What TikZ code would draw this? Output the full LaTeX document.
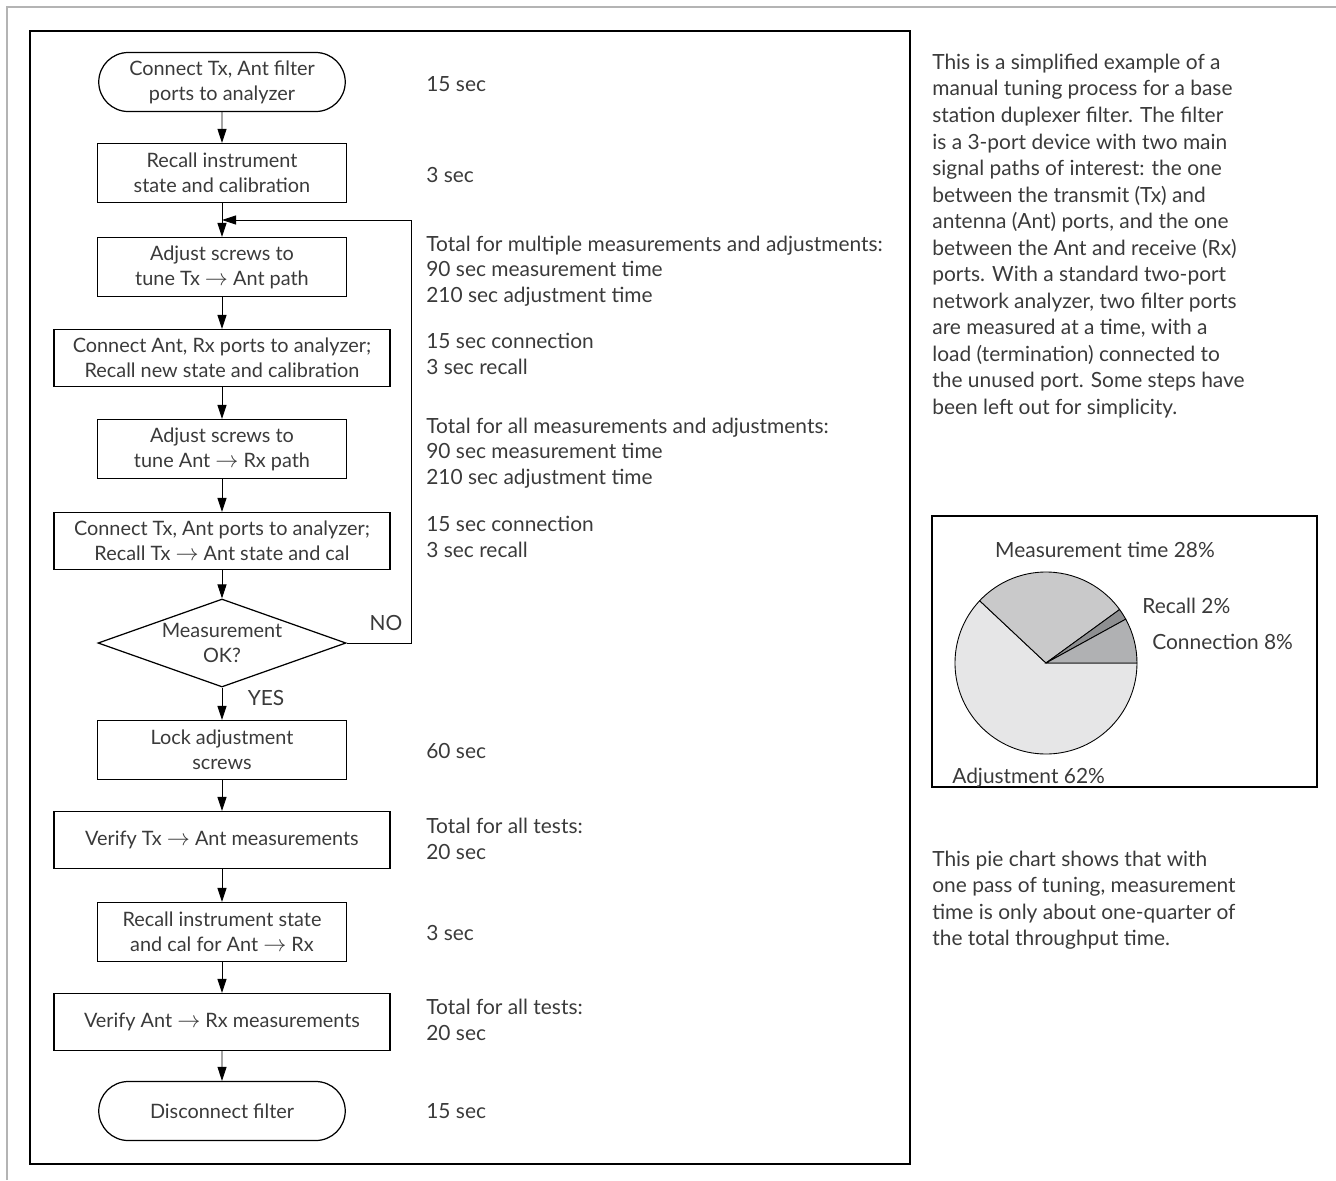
\documentclass[tikz,border=0pt]{standalone}
\usepackage{fontspec}
\setmainfont{Lato}
\usetikzlibrary{arrows.meta,shapes.geometric,shapes.misc}

\definecolor{txtgray}{HTML}{3A3A3A}
\definecolor{framegray}{HTML}{B4B4B4}
\definecolor{adjfill}{HTML}{E6E6E7}
\definecolor{measfill}{HTML}{C9C9CA}
\definecolor{recfill}{HTML}{8E8F91}
\definecolor{confill}{HTML}{B0B1B3}

\tikzset{
  stepbox/.style={draw, line width=0.7pt, minimum width=49.8mm, minimum height=11.8mm,
    align=center, inner sep=1pt, text=txtgray, font=\fontsize{11.3}{14.2}\selectfont},
  widebox/.style={stepbox, minimum width=67.2mm, minimum height=11.4mm},
  termbox/.style={stepbox, rounded rectangle, minimum width=50mm},
  decision/.style={draw, diamond, line width=0.7pt, minimum width=49.6mm, minimum height=17.6mm, inner sep=0pt},
  flow/.style={-{Triangle[length=2.8mm,width=1.8mm]}, line width=0.5pt},
  note/.style={anchor=west, align=left, inner sep=0pt, text=txtgray, font=\fontsize{11.9}{14.5}\selectfont},
  para/.style={note, font=\fontsize{11.9}{15.1}\selectfont}
}
\newcommand{\pathto}{\smash{\scalebox{1.2}{$\rightarrow$}}}

\begin{document}
\begin{tikzpicture}[x=0.2mm, y=-0.2mm]
  \useasboundingbox (0,0) rectangle (1336,1180);

  %%%%% FRAMES %%%%%
  \draw[framegray, line width=0.9pt] (7,1180) -- (7,7) -- (1336,7);
  \draw[line width=0.7pt] (30,31) rectangle (910,1164);
  \draw[line width=0.7pt] (932,516) rectangle (1317,787);

  %%%%% FLOW STEPS %%%%%
  \node[termbox] (start) at (222,82) {Connect Tx, Ant filter\\ports to analyzer};
  \node[stepbox] (recall) at (222,173) {Recall instrument\\state and calibration};
  \node[stepbox] (adjtx) at (222,267) {Adjust screws to\\tune Tx \pathto{} Ant path};
  \node[widebox] (conrx) at (222,358) {Connect Ant, Rx ports to analyzer;\\Recall new state and calibration};
  \node[stepbox] (adjrx) at (222,449) {Adjust screws to\\tune Ant \pathto{} Rx path};
  \node[widebox] (contx) at (222,541) {Connect Tx, Ant ports to analyzer;\\Recall Tx \pathto{} Ant state and cal};
  \node[decision] (ok) at (222,643) {};
  \node[align=center, text=txtgray, font=\fontsize{11.3}{14.2}\selectfont] (oktext) at (ok) {Measurement\\OK?};
  \node[stepbox] (lock) at (222,750) {Lock adjustment\\screws};
  \node[widebox] (vertx) at (222,840) {Verify Tx \pathto{} Ant measurements};
  \node[stepbox] (recrx) at (222,932) {Recall instrument state\\and cal for Ant \pathto{} Rx};
  \node[widebox] (verrx) at (222,1022) {Verify Ant \pathto{} Rx measurements};
  \node[termbox] (disc) at (222,1111) {Disconnect filter};

  \draw[flow] (start) -- (recall);
  \draw[flow] (recall) -- (adjtx);
  \draw[flow] (adjtx) -- (conrx);
  \draw[flow] (conrx) -- (adjrx);
  \draw[flow] (adjrx) -- (contx);
  \draw[flow] (contx) -- (ok);
  \draw[flow] (ok) -- (lock);
  \draw[flow] (lock) -- (vertx);
  \draw[flow] (vertx) -- (recrx);
  \draw[flow] (recrx) -- (verrx);
  \draw[flow] (verrx) -- (disc);

  % loop back when the measurement fails
  \coordinate (loop) at (411,220);
  \coordinate (join) at (222,220);
  \draw[flow] (ok.east) -| (loop) -- (join);
  \node[note, anchor=center] (no) at (386,623) {NO};
  \node[note, anchor=center] (yes) at (266,698) {YES};

  %%%%% TIMES %%%%%
  \node[note] (t1) at (426,84) {15 sec};
  \node[note] (t2) at (426,175) {3 sec};
  \node[note] (t3) at (426,271) {Total for multiple measurements and adjustments:\\90 sec measurement time\\210 sec adjustment time};
  \node[note] (t4) at (426,354) {15 sec connection\\3 sec recall};
  \node[note] (t5) at (426,453) {Total for all measurements and adjustments:\\90 sec measurement time\\210 sec adjustment time};
  \node[note] (t6) at (426,537) {15 sec connection\\3 sec recall};
  \node[note] (t7) at (426,751) {60 sec};
  \node[note] (t8) at (426,839) {Total for all tests:\\20 sec};
  \node[note] (t9) at (426,933) {3 sec};
  \node[note] (t10) at (426,1020) {Total for all tests:\\20 sec};
  \node[note] (t11) at (426,1111) {15 sec};

  %%%%% SIDE TEXT %%%%%
  \node[para] (intro) at (932,236) {This is a simplified example of a\\manual tuning process for a base\\station duplexer filter. The filter\\is a 3-port device with two main\\signal paths of interest: the one\\between the transmit (Tx) and\\antenna (Ant) ports, and the one\\between the Ant and receive (Rx)\\ports. With a standard two-port\\network analyzer, two filter ports\\are measured at a time, with a\\load (termination) connected to\\the unused port. Some steps have\\been left out for simplicity.};
  \node[para] (summary) at (932,900) {This pie chart shows that with\\one pass of tuning, measurement\\time is only about one-quarter of\\the total throughput time.};

  %%%%% PIE %%%%%
  \coordinate (piec) at (1046,663);
  \filldraw[fill=adjfill, line width=0.5pt] (piec) -- ++(136.8:18.2mm) arc (136.8:360:18.2mm) -- cycle;
  \filldraw[fill=measfill, line width=0.5pt] (piec) -- ++(36:18.2mm) arc (36:136.8:18.2mm) -- cycle;
  \filldraw[fill=recfill, line width=0.5pt] (piec) -- ++(28.8:18.2mm) arc (28.8:36:18.2mm) -- cycle;
  \filldraw[fill=confill, line width=0.5pt] (piec) -- ++(0:18.2mm) arc (0:28.8:18.2mm) -- cycle;

  \node[note, anchor=center] (lmeas) at (1105,550) {Measurement time 28\%};
  \node[note] (lrec) at (1142,606) {Recall 2\%};
  \node[note] (lcon) at (1152,642) {Connection 8\%};
  \node[note] (ladj) at (952,778) {Adjustment 62\%};
\end{tikzpicture}
\end{document}
